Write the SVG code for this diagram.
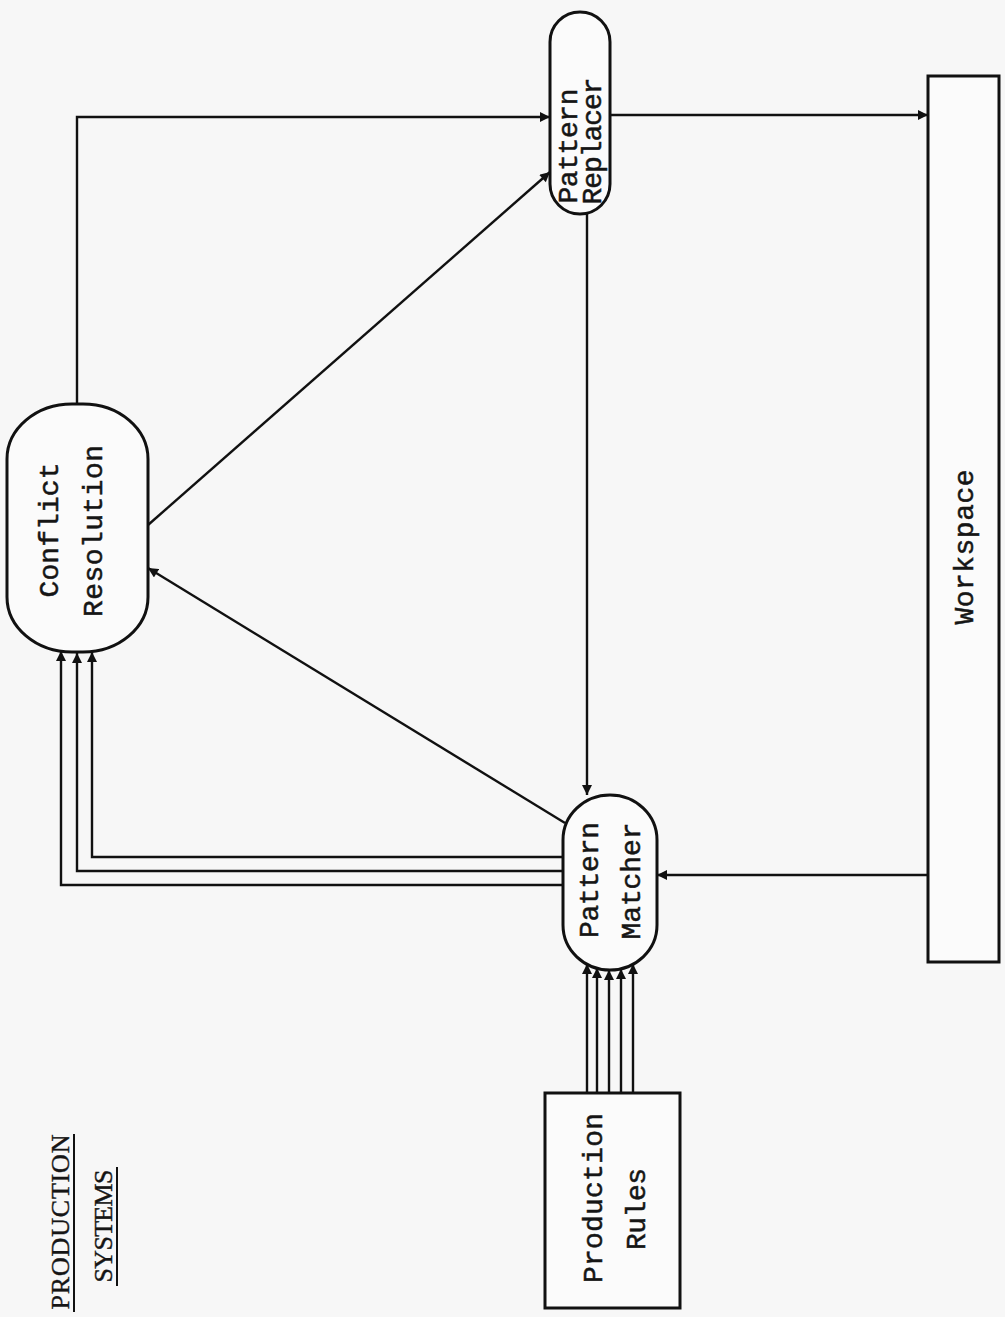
<svg xmlns="http://www.w3.org/2000/svg" width="1005" height="1317" viewBox="0 0 1005 1317">
<style>
.node{fill:#fbfbfb;stroke:#111;stroke-width:3}
.lbl{font-family:"Liberation Mono","DejaVu Sans Mono",monospace;font-size:28px;fill:#151515;stroke:#151515;stroke-width:0.5;text-anchor:middle}
.title{font-family:"Liberation Serif","DejaVu Serif",serif;font-size:26px;fill:#151515;stroke:#151515;stroke-width:0.4;text-anchor:middle}
.conn{fill:none;stroke:#111;stroke-width:2.4}
</style>
<defs>
<marker id="arr" viewBox="0 0 10 10" refX="10" refY="5" markerWidth="11" markerHeight="10" markerUnits="userSpaceOnUse" orient="auto">
<path d="M0,0 L10,5 L0,10 Z" fill="#111"/>
</marker>
</defs>
<rect width="1005" height="1317" fill="#f7f7f7"/>
<g id="workspace">
<rect class="node" x="928" y="76" width="71" height="886"/>
<text class="lbl" transform="translate(973,547) rotate(-90)" textLength="155" lengthAdjust="spacing">Workspace</text>
</g>
<g id="pattern-replacer">
<rect class="node" x="550" y="12" width="60" height="202" rx="30" ry="30"/>
<text class="lbl" transform="translate(577,146) rotate(-90)" textLength="115" lengthAdjust="spacing">Pattern</text>
<text class="lbl" transform="translate(601,141) rotate(-90)" textLength="127" lengthAdjust="spacing">Replacer</text>
</g>
<g id="conflict-resolution">
<rect class="node" x="7" y="404" width="141" height="248" rx="65" ry="55"/>
<text class="lbl" transform="translate(58,530) rotate(-90)" textLength="135" lengthAdjust="spacing">Conflict</text>
<text class="lbl" transform="translate(102,531) rotate(-90)" textLength="172" lengthAdjust="spacing">Resolution</text>
</g>
<g id="pattern-matcher">
<rect class="node" x="563" y="795" width="94" height="175" rx="47" ry="45"/>
<text class="lbl" transform="translate(598,880) rotate(-90)" textLength="116" lengthAdjust="spacing">Pattern</text>
<text class="lbl" transform="translate(640,881) rotate(-90)" textLength="117" lengthAdjust="spacing">Matcher</text>
</g>
<g id="production-rules">
<rect class="node" x="545" y="1093" width="135" height="215"/>
<text class="lbl" transform="translate(602,1198) rotate(-90)" textLength="170" lengthAdjust="spacing">Production</text>
<text class="lbl" transform="translate(645,1209) rotate(-90)" textLength="82" lengthAdjust="spacing">Rules</text>
</g>
<g id="title">
<text class="title" transform="translate(69,1222) rotate(-90)" textLength="175" lengthAdjust="spacing">PRODUCTION</text>
<line x1="74" y1="1134" x2="74" y2="1312" stroke="#111" stroke-width="2"/>
<text class="title" transform="translate(112,1226) rotate(-90)" textLength="113" lengthAdjust="spacing">SYSTEMS</text>
<line x1="117" y1="1167" x2="117" y2="1286" stroke="#111" stroke-width="2"/>
</g>
<g id="connectors">
<path class="conn" d="M77,404 V117 H550" marker-end="url(#arr)"/>
<path class="conn" d="M610,115 H928" marker-end="url(#arr)"/>
<path class="conn" d="M587,214 V795" marker-end="url(#arr)"/>
<path class="conn" d="M148,525 L550,172" marker-end="url(#arr)"/>
<path class="conn" d="M565,823 L148,568" marker-end="url(#arr)"/>
<path class="conn" d="M928,875 H657" marker-end="url(#arr)"/>
<path class="conn" d="M563,857 H92 V652" marker-end="url(#arr)"/>
<path class="conn" d="M563,871 H77 V653" marker-end="url(#arr)"/>
<path class="conn" d="M563,885 H61 V651" marker-end="url(#arr)"/>
<path class="conn" d="M587,1093 V964" marker-end="url(#arr)"/>
<path class="conn" d="M597,1093 V968" marker-end="url(#arr)"/>
<path class="conn" d="M609,1093 V970" marker-end="url(#arr)"/>
<path class="conn" d="M621,1093 V969" marker-end="url(#arr)"/>
<path class="conn" d="M633,1093 V964" marker-end="url(#arr)"/>
</g>
</svg>
